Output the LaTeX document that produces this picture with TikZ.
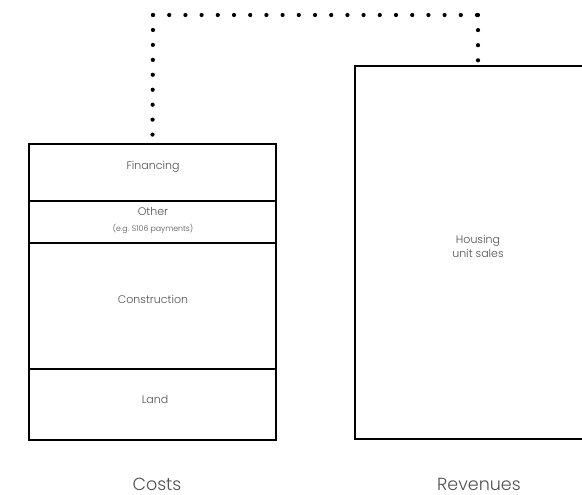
\documentclass[tikz,border=0pt]{standalone}
\usepackage{fontspec}
\setmainfont{Poppins}[UprightFont=* Light]
\definecolor{txt}{HTML}{505050}
\begin{document}
\begin{tikzpicture}[x=1pt,y=-1pt,
  box/.style={draw=black,line width=2pt,rectangle,inner sep=0pt},
  lbl/.style={text=txt,font=\fontsize{11}{14}\selectfont,align=center,inner sep=0pt},
  caption/.style={text=txt,font=\fontsize{17.5}{20}\selectfont},
  dots/.style={line width=4.2pt,line cap=round}]
\useasboundingbox (0,0) rectangle (582,495);
\node[box,minimum width=247pt,minimum height=57pt] (fin) at (152.5,172.5) {};
\node[box,minimum width=247pt,minimum height=42pt] (oth) at (152.5,222) {};
\node[box,minimum width=247pt,minimum height=126pt] (con) at (152.5,306) {};
\node[box,minimum width=247pt,minimum height=71pt] (land) at (152.5,404.5) {};
\node[box,minimum width=246pt,minimum height=373pt] (rev) at (478,252.5) {};
\node[lbl] (tfin) at (153,167) {Financing};
\node[lbl] (toth) at (153,211) {Other};
\node[lbl,font=\fontsize{7.8}{9}\selectfont] (toth2) at (153,229) {(e.g. S106 payments)};
\node[lbl] (tcon) at (153,299) {Construction};
\node[lbl] (tland) at (155,399) {Land};
\node[lbl] (trev) at (478,246) {Housing\\unit sales};
\node[caption] (costs) at (157,484) {Costs};
\node[caption] (revl) at (479,484) {Revenues};
\coordinate (c1) at (153,15);
\coordinate (c2) at (478,15);
\draw[dots,dash pattern=on 0pt off 14.95pt] (c1) -- ([yshift=6pt]fin.north);
\draw[dots,dash pattern=on 0pt off 16.2pt] (c1) -- (c2);
\draw[dots,dash pattern=on 0pt off 15.1pt] (c2) -- ([yshift=4pt]rev.north);
\end{tikzpicture}
\end{document}
